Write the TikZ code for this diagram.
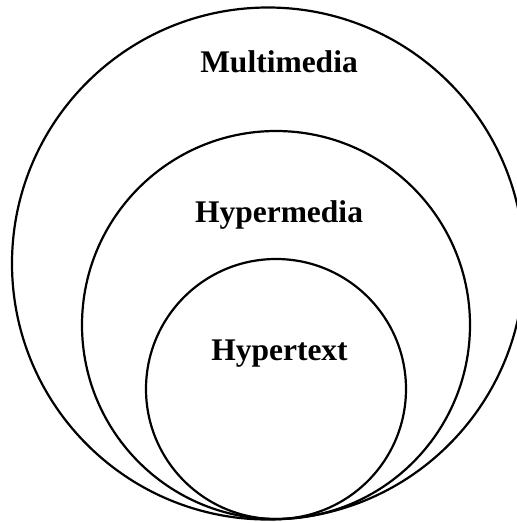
\documentclass[tikz,border=0pt]{standalone}
\usepackage{fontspec}
\setmainfont{Liberation Serif}
\newlength{\du}
\setlength{\du}{1pt}
\tikzset{
  ringlabel/.style={font=\fontsize{31.5}{38}\selectfont\bfseries, inner sep=0pt, anchor=base}
}
\begin{document}
\begin{tikzpicture}
\pgftransformxscale{1.000000}
\pgftransformyscale{-1.000000}
\useasboundingbox (0\du,0\du) rectangle (517\du,523\du);
\clip (0\du,0\du) rectangle (517\du,523\du);
\definecolor{dialinecolor}{rgb}{0.000000, 0.000000, 0.000000}
\pgfsetstrokecolor{dialinecolor}
\pgfsetlinewidth{2.200000\du}
% outer ring
\draw (268.000000\du,263.500000\du) circle (256.000000\du);
% middle ring
\draw (276.000000\du,325.000000\du) circle (194.000000\du);
% inner ring
\draw (276.000000\du,389.000000\du) circle (130.000000\du);
\node[ringlabel] (multimedia) at (279.000000\du,72.000000\du) {Multimedia};
\node[ringlabel] (hypermedia) at (279.000000\du,222.000000\du) {Hypermedia};
\node[ringlabel] (hypertext) at (279.500000\du,360.000000\du) {Hypertext};
\end{tikzpicture}
\end{document}
